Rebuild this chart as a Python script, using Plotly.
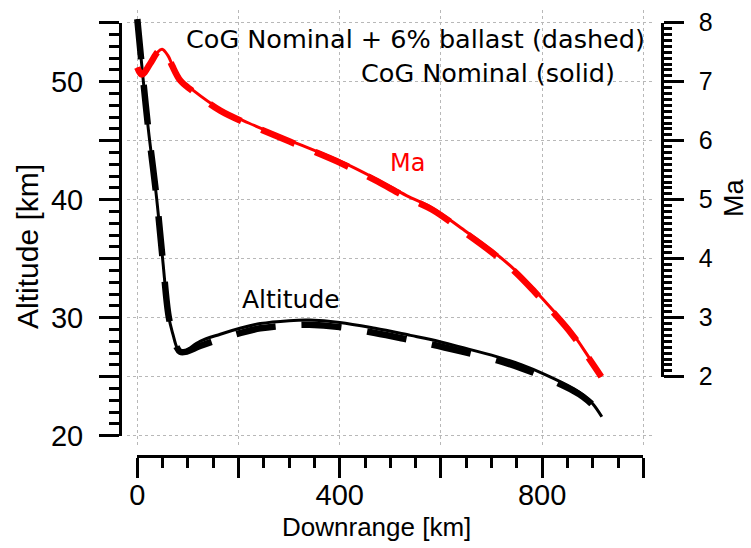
import plotly.graph_objects as go

# ---------------- data ----------------
alt_km = [0, 12, 22, 38, 50, 62, 71, 78, 85, 95, 124, 164, 203, 243, 300, 340,
          400, 470, 540, 580, 640, 710, 760, 805, 862, 881, 900, 918]
alt_nominal = [55.3, 50.0, 45.9, 40.2, 35.0, 30.1, 28.5, 27.5, 27.1, 27.2, 28.0,
               28.6, 29.1, 29.5, 29.75, 29.8, 29.6, 29.1, 28.5, 28.15, 27.5,
               26.7, 26.0, 25.2, 24.0, 23.45, 22.7, 21.6]
alt_ballast = [55.3, 50.0, 45.9, 40.2, 35.0, 30.1, 28.5, 27.5, 27.1, 27.1, 27.6,
               28.2, 28.7, 29.1, 29.35, 29.4, 29.2, 28.7, 28.1, 27.75, 27.15,
               26.4, 25.7, 24.95, 23.8, 23.3, 22.6, 21.6]

ma_km = [0, 9, 25, 40, 49, 60, 69, 85, 108, 164, 220, 300, 402, 470, 532,
         583, 640, 699, 745, 785, 821, 858, 887, 917]
ma_nominal = [7.24, 7.12, 7.30, 7.50, 7.55, 7.45, 7.29, 7.04, 6.87, 6.53, 6.30,
              6.01, 5.65, 5.36, 5.07, 4.86, 4.52, 4.15, 3.82, 3.47, 3.13, 2.76,
              2.40, 2.0]
ma_ballast = [7.24, 7.12, 7.30, 7.50, 7.55, 7.44, 7.27, 7.02, 6.85, 6.51, 6.28,
              5.99, 5.62, 5.33, 5.04, 4.83, 4.49, 4.12, 3.79, 3.44, 3.10, 2.73,
              2.38, 2.0]

x_ticks = [0, 200, 400, 600, 800, 1000]
x_ticktext = ['0', '', '400', '', '800', '']
alt_ticks = [20, 25, 30, 35, 40, 45, 50, 55]
alt_ticktext = ['20', '', '30', '', '40', '', '50', '']

# ---------------- layout geometry ----------------
W, H = 751, 548


def fx(p):
    return p / W


def fy(p):
    return (H - p) / H


AX_FONT = 'Liberation Sans, Arial, sans-serif'
TXT_FONT = 'DejaVu Sans, Verdana, sans-serif'
GRID = '#b8b8b8'

fig = go.Figure()

# Altitude
fig.add_trace(go.Scatter(x=alt_km, y=alt_ballast, mode='lines', line_shape='spline',
                         line=dict(color='black', width=6.5, dash='40px,26px'),
                         xaxis='x', yaxis='y', showlegend=False, hoverinfo='skip'))
fig.add_trace(go.Scatter(x=alt_km, y=alt_nominal, mode='lines', line_shape='spline',
                         line=dict(color='black', width=3),
                         xaxis='x', yaxis='y', showlegend=False, hoverinfo='skip'))
# Mach
fig.add_trace(go.Scatter(x=ma_km, y=ma_ballast, mode='lines', line_shape='spline',
                         line=dict(color='#ff0000', width=6.5, dash='36px,22px'),
                         xaxis='x', yaxis='y2', showlegend=False, hoverinfo='skip'))
fig.add_trace(go.Scatter(x=ma_km, y=ma_nominal, mode='lines', line_shape='spline',
                         line=dict(color='#ff0000', width=3),
                         xaxis='x', yaxis='y2', showlegend=False, hoverinfo='skip'))

# invisible helpers so the offset tick axes are drawn
fig.add_trace(go.Scatter(x=[0, 1000], y=[20, 55], mode='markers', marker=dict(opacity=0),
                         xaxis='x2', yaxis='y3', showlegend=False, hoverinfo='skip'))
fig.add_trace(go.Scatter(x=[0, 1000], y=[2, 8], mode='markers', marker=dict(opacity=0),
                         xaxis='x2', yaxis='y4', showlegend=False, hoverinfo='skip'))

tick_common = dict(showline=True, linewidth=3, linecolor='black', ticks='outside',
                   tickwidth=3, tickcolor='black', showgrid=False, zeroline=False,
                   fixedrange=True, automargin=False)

# alt ranges for grid axes (pixel mapping: 55 km -> y 22.7, 20 km -> y 435.7)
alt_per_px = 35.0 / (435.7 - 22.7)
y_lo = 20 - (445 - 435.7) * alt_per_px
y_hi = 55 + (22.7 - 10) * alt_per_px
km_per_px = 1000.0 / (643.3 - 137.3)
x_lo = -(137.3 - 126.7) * km_per_px
x_hi = 1000 + (651.7 - 643.3) * km_per_px

fig.update_layout(
    template='none',
    width=W, height=H, autosize=False,
    margin=dict(l=0, r=0, t=0, b=0, pad=0, autoexpand=False),
    paper_bgcolor='white', plot_bgcolor='rgba(0,0,0,0)',
    showlegend=False,
    xaxis=dict(domain=[fx(126.7), fx(651.7)], range=[x_lo, x_hi],
               showgrid=True, gridcolor=GRID, griddash='dot', gridwidth=1,
               tickmode='linear', tick0=0, dtick=200, showticklabels=False,
               ticks='', zeroline=False, showline=False, fixedrange=True,
               automargin=False),
    yaxis=dict(domain=[fy(445), fy(10)], range=[y_lo, y_hi],
               showgrid=True, gridcolor=GRID, griddash='dot', gridwidth=1,
               tickmode='linear', tick0=20, dtick=5, showticklabels=False,
               ticks='', zeroline=False, showline=False, fixedrange=True,
               automargin=False),
    yaxis2=dict(overlaying='y', side='right',
                range=[2 + (y_lo - 25) / 5, 2 + (y_hi - 25) / 5],
                showgrid=False, showticklabels=False, ticks='', zeroline=False,
                showline=False, fixedrange=True, automargin=False),
    xaxis2=dict(domain=[fx(137.3), fx(643.3)], range=[0, 1000], anchor='free',
                position=fy(456.4), side='bottom',
                tickmode='array', tickvals=x_ticks, ticktext=x_ticktext, ticklen=20,
                minor=dict(ticks='outside', tickmode='linear', tick0=0, dtick=50,
                           ticklen=10, tickwidth=3, tickcolor='black', showgrid=False),
                tickfont=dict(family=AX_FONT, size=29, color='black'),
                ticklabelstandoff=-8,
                **tick_common),
    yaxis3=dict(domain=[fy(435.7), fy(22.7)], range=[20, 55], anchor='free',
                position=fx(120), side='left',
                tickmode='array', tickvals=alt_ticks, ticktext=alt_ticktext, ticklen=20,
                minor=dict(ticks='outside', tickmode='linear', tick0=20, dtick=1,
                           ticklen=10, tickwidth=3, tickcolor='black', showgrid=False),
                tickfont=dict(family=AX_FONT, size=29, color='black'),
                ticklabelstandoff=10,
                **tick_common),
    yaxis4=dict(domain=[fy(376.7), fy(22.7)], range=[2, 8], anchor='free',
                position=fx(661.7), side='right',
                tickmode='linear', tick0=2, dtick=1, ticklen=20,
                minor=dict(ticks='outside', tickmode='linear', tick0=2, dtick=0.1,
                           ticklen=8, tickwidth=3, tickcolor='black', showgrid=False),
                tickfont=dict(family=AX_FONT, size=25, color='black'),
                ticklabelstandoff=10,
                **tick_common),
)

annotations = [
    dict(text='Altitude [km]', x=fx(27), y=fy(247), textangle=-90,
         font=dict(family=AX_FONT, size=30, color='black')),
    dict(text='Downrange [km]', x=fx(376), y=fy(527),
         font=dict(family=AX_FONT, size=26, color='black')),
    dict(text='Ma', x=fx(734), y=fy(198), textangle=-90,
         font=dict(family=AX_FONT, size=27, color='black')),
    dict(text='CoG Nominal + 6% ballast (dashed)', x=fx(416), y=fy(39),
         font=dict(family=TXT_FONT, size=25.5, color='black')),
    dict(text='CoG Nominal (solid)', x=fx(488.3), y=fy(73),
         font=dict(family=TXT_FONT, size=25.5, color='black')),
]
for a in annotations:
    a.update(xref='paper', yref='paper', showarrow=False,
             xanchor='center', yanchor='middle')

# series labels placed in data coordinates
annotations.append(dict(text='Ma', x=534, y=43.15, xref='x', yref='y', showarrow=False,
                        xanchor='center', yanchor='middle',
                        font=dict(family=TXT_FONT, size=24, color='#ff0000')))
annotations.append(dict(text='Altitude', x=304, y=31.53, xref='x', yref='y',
                        showarrow=False, xanchor='center', yanchor='middle',
                        font=dict(family=TXT_FONT, size=25, color='black')))
fig.update_layout(annotations=annotations)

fig.write_html('out.html')
